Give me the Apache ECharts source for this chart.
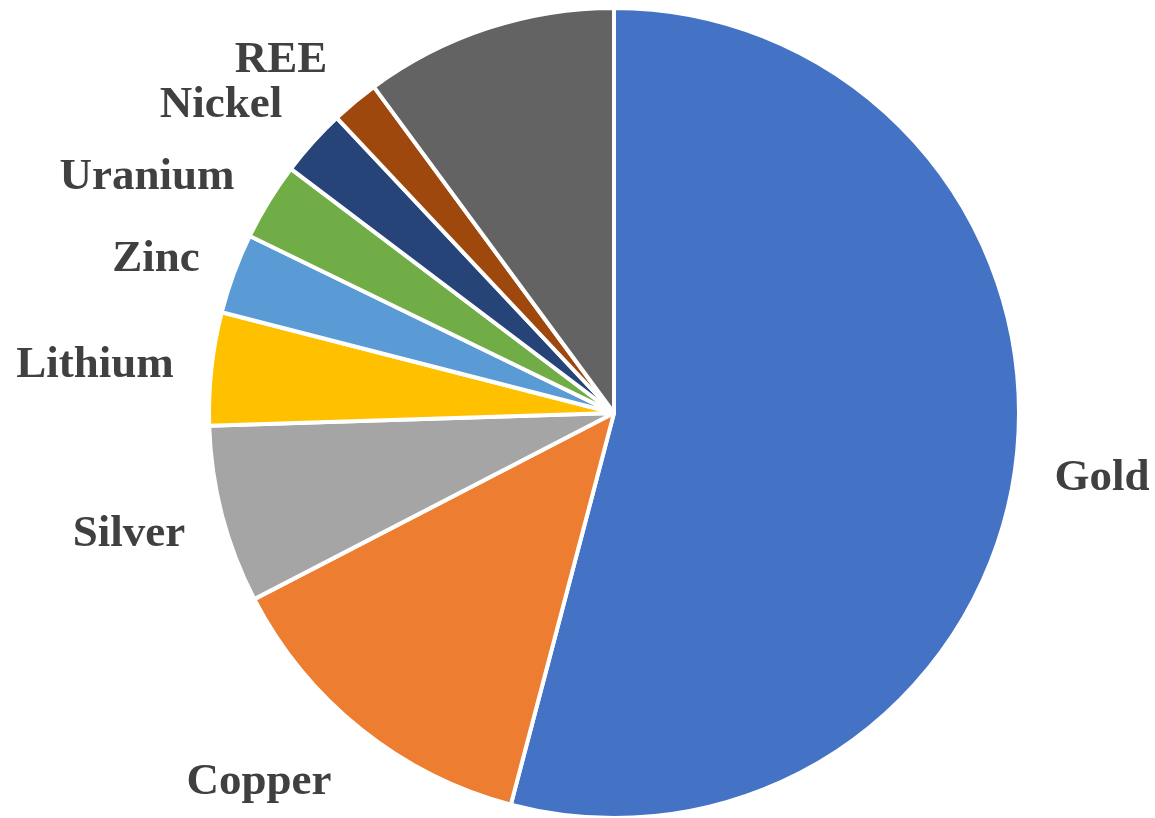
<!DOCTYPE html>
<html>
<head>
<meta charset="utf-8">
<script src="https://cdn.jsdelivr.net/npm/echarts@6/dist/echarts.min.js"></script>
<style>
  html, body { margin: 0; padding: 0; background: #ffffff; }
  #chart { width: 1155px; height: 818px; }
</style>
</head>
<body>
<div id="chart"></div>
<script>
// Share of each commodity (%), clockwise from 12 o'clock
const categories = ['Gold', 'Copper', 'Silver', 'Lithium', 'Zinc', 'Uranium', 'Nickel', 'REE', ''];
const shares = [54.1, 13.3, 7.1, 4.5, 3.2, 3.1, 2.7, 1.9, 10.1];
const colors = ['#4472C4', '#ED7D31', '#A5A5A5', '#FFC000', '#5B9BD5', '#70AD47', '#264478', '#9E480E', '#636363'];

// Label anchor points (centre of text) for each slice
const labelPos = {
  Gold: [1102, 478],
  Copper: [259, 782],
  Silver: [129, 534],
  Lithium: [95, 365],
  Zinc: [156, 259],
  Uranium: [147, 177],
  Nickel: [221, 105],
  REE: [281, 60]
};

const chart = echarts.init(document.getElementById('chart'), null, { renderer: 'canvas' });

chart.setOption({
  animation: false,
  backgroundColor: '#ffffff',
  color: colors,
  series: [{
    type: 'pie',
    center: [614, 413],
    radius: 405,
    startAngle: 90,
    clockwise: true,
    avoidLabelOverlap: false,
    itemStyle: { borderColor: '#ffffff', borderWidth: 4 },
    label: {
      show: true,
      position: 'outside',
      formatter: '{b}',
      fontFamily: '"Liberation Serif", "Times New Roman", serif',
      fontWeight: 'bold',
      fontSize: 45,
      color: '#404040'
    },
    labelLine: { show: false },
    labelLayout: function (params) {
      const name = categories[params.dataIndex];
      const p = labelPos[name];
      if (!p) return {};
      return { x: p[0], y: p[1], align: 'center', verticalAlign: 'middle' };
    },
    data: categories.map(function (name, i) {
      const item = { name: name, value: shares[i] };
      if (!name) item.label = { show: false };
      return item;
    })
  }]
});
</script>
</body>
</html>
